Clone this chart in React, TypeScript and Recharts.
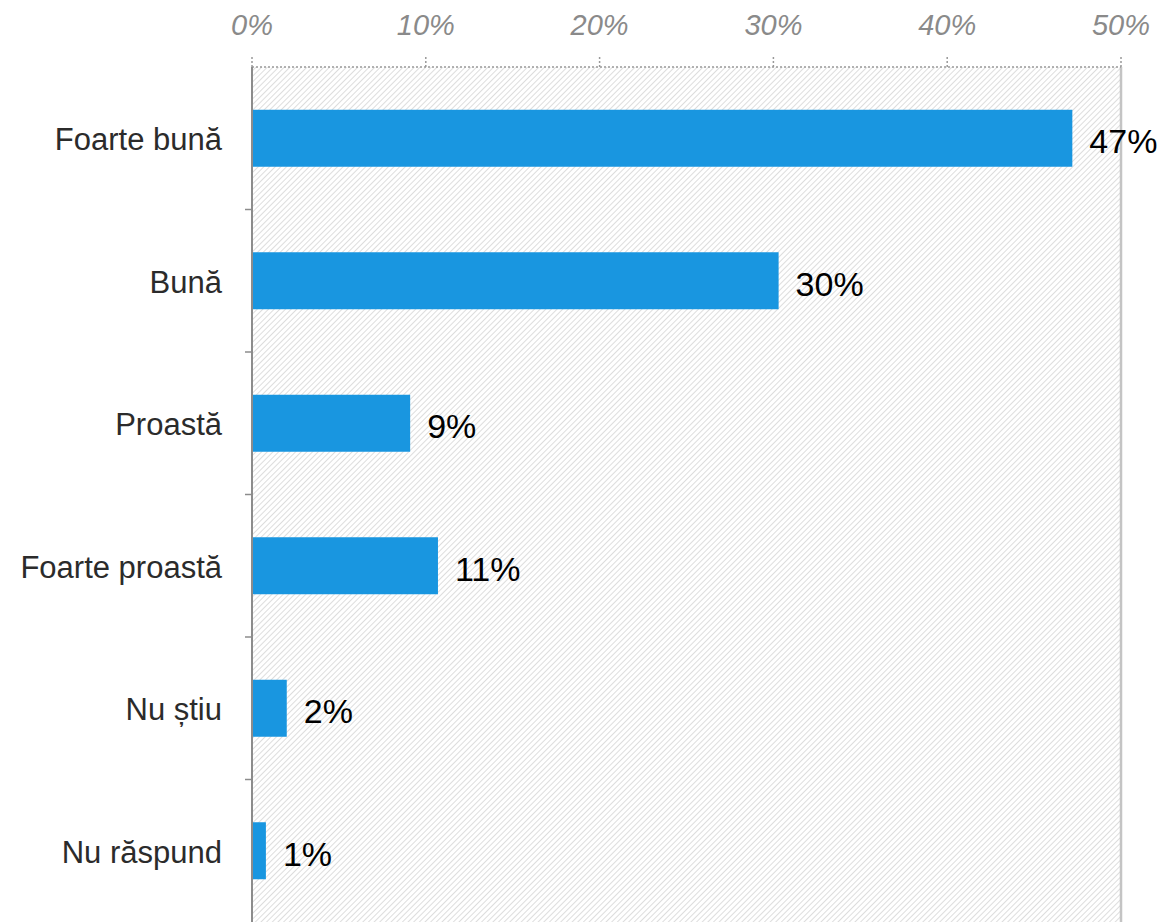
import { BarChart, Bar, XAxis, YAxis, CartesianGrid, LabelList, ReferenceLine } from "recharts";

const categories = ["Foarte bună", "Bună", "Proastă", "Foarte proastă", "Nu știu", "Nu răspund"];
const shares = [47.2, 30.3, 9.1, 10.7, 2.0, 0.8];
const labels = ["47%", "30%", "9%", "11%", "2%", "1%"];
const xTicks = [0, 10, 20, 30, 40, 50];

const data = categories.map((name, i) => ({ name, value: shares[i], label: labels[i] }));

const FONT = "'Liberation Sans', Arial, sans-serif";

function CategoryTick(props: any) {
  const { x, y, payload, index } = props;
  const half = payload?.offset ?? 71.25;
  return (
    <g>
      <text x={x - 22} y={y} dy={12} textAnchor="end" fontSize={31} fill="#2b2b2b" fontFamily={FONT}>
        {payload.value}
      </text>
      {index < categories.length - 1 && (
        <line x1={x + 1} x2={x + 8} y1={y + half} y2={y + half} stroke="#8c8c8c" strokeWidth={1.5} />
      )}
    </g>
  );
}

export default function App() {
  return (
    <div style={{ position: "absolute", left: 0, top: 0, background: "#fff" }}>
      <BarChart
        width={1163}
        height={922}
        data={data}
        layout="vertical"
        margin={{ top: 0, right: 42, bottom: 0, left: 0 }}
        barCategoryGap="30%"
      >
        <defs>
          <pattern id="hatch" width="4" height="4" patternUnits="userSpaceOnUse" patternTransform="rotate(45)">
            <line x1="0" y1="0" x2="0" y2="4" stroke="#cacaca" strokeWidth="1.3" />
          </pattern>
        </defs>
        <CartesianGrid horizontal={false} vertical={false} fill="url(#hatch)" fillOpacity={1} />
        <XAxis
          type="number"
          orientation="top"
          domain={[0, 50]}
          ticks={xTicks}
          tickFormatter={(v: number) => `${v}%`}
          axisLine={{ stroke: "#999", strokeDasharray: "2 2", strokeWidth: 1.5 }}
          tickLine={{ stroke: "#999", strokeDasharray: "2 2", strokeWidth: 1.5 }}
          tickSize={10}
          tickMargin={22}
          tick={{ fill: "#8a8a8a", fontSize: 29, fontStyle: "italic", fontFamily: FONT }}
          interval={0}
          height={67}
        />
        <YAxis
          type="category"
          dataKey="name"
          width={252}
          axisLine={{ stroke: "#8c8c8c", strokeWidth: 2 }}
          tickLine={false}
          tick={<CategoryTick />}
          interval={0}
        />
        <ReferenceLine x={50} stroke="#c4c4c4" strokeWidth={2.5} ifOverflow="visible" />
        <Bar dataKey="value" fill="#1996e0" isAnimationActive={false}>
          <LabelList dataKey="label" position="right" offset={17} fill="#000" fontSize={34} fontFamily={FONT} dy={3} />
        </Bar>
      </BarChart>
    </div>
  );
}
